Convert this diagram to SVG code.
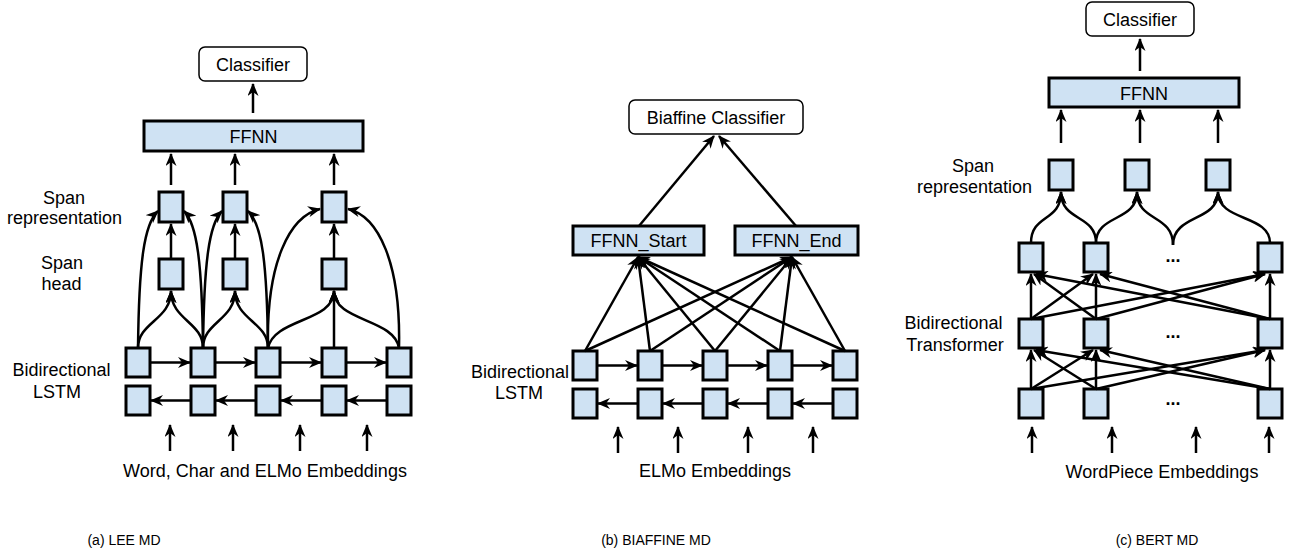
<svg xmlns="http://www.w3.org/2000/svg" width="1291" height="552" viewBox="0 0 1291 552">
<defs>
<marker id="ah" markerUnits="userSpaceOnUse" viewBox="0 0 13 11" markerWidth="13" markerHeight="11" refX="12" refY="5.5" orient="auto">
<path d="M0,0 L13,5.5 L0,11 L4,5.5 z" fill="#000"/>
</marker>
<style>
.box{fill:#cfe2f3;stroke:#000;stroke-width:3}
.cls{fill:#fff;stroke:#000;stroke-width:1.5}
.t{font-family:"Liberation Sans",Arial,sans-serif;font-size:18px;fill:#000;text-anchor:middle}
.cap{font-family:"Liberation Sans",Arial,sans-serif;font-size:14px;fill:#000;text-anchor:middle}
.dots{font-family:"Liberation Sans",Arial,sans-serif;font-size:18px;font-weight:bold;fill:#000;text-anchor:middle}
.c{stroke:#000;stroke-width:2.5;fill:none;marker-end:url(#ah)}
.l{stroke:#000;stroke-width:2.5;fill:none}
</style>
</defs>
<rect width="1291" height="552" fill="#fff"/>

<!-- ===== Panel A ===== -->
<g id="a-classifier"><rect class="cls" x="199" y="47" width="108" height="34" rx="6"/><text class="t" x="253" y="70.5">Classifier</text></g>
<g id="a-ffnn"><rect class="box" x="144" y="121" width="219" height="30"/><text class="t" x="253.5" y="142.5">FFNN</text></g>
<g id="a-rep1"><rect class="box" x="159" y="192" width="24" height="30"/></g>
<g id="a-rep2"><rect class="box" x="223" y="192" width="24" height="30"/></g>
<g id="a-rep3"><rect class="box" x="322" y="192" width="24" height="30"/></g>
<g id="a-head1"><rect class="box" x="159" y="259" width="24" height="30"/></g>
<g id="a-head2"><rect class="box" x="223" y="259" width="24" height="30"/></g>
<g id="a-head3"><rect class="box" x="322" y="259" width="24" height="30"/></g>
<g id="a-f1"><rect class="box" x="126" y="348" width="24" height="29"/></g>
<g id="a-f2"><rect class="box" x="191" y="348" width="24" height="29"/></g>
<g id="a-f3"><rect class="box" x="256" y="348" width="24" height="29"/></g>
<g id="a-f4"><rect class="box" x="322" y="348" width="24" height="29"/></g>
<g id="a-f5"><rect class="box" x="387" y="348" width="24" height="29"/></g>
<g id="a-b1"><rect class="box" x="126" y="386" width="24" height="29"/></g>
<g id="a-b2"><rect class="box" x="191" y="386" width="24" height="29"/></g>
<g id="a-b3"><rect class="box" x="256" y="386" width="24" height="29"/></g>
<g id="a-b4"><rect class="box" x="322" y="386" width="24" height="29"/></g>
<g id="a-b5"><rect class="box" x="387" y="386" width="24" height="29"/></g>
<g id="a-labels">
<text class="t" x="64" y="204">Span</text>
<text class="t" x="64.5" y="224">representation</text>
<text class="t" x="62" y="269">Span</text>
<text class="t" x="61.5" y="290">head</text>
<text class="t" x="61.5" y="376">Bidirectional</text>
<text class="t" x="57" y="398">LSTM</text>
<text class="t" x="265" y="477">Word, Char and ELMo Embeddings</text>
<text class="cap" x="124" y="545">(a) LEE MD</text>
</g>

<!-- ===== Panel B ===== -->
<g id="b-classifier"><rect class="cls" x="629" y="100" width="174" height="34" rx="6"/><text class="t" x="716" y="123.5">Biaffine Classifier</text></g>
<g id="b-start"><rect class="box" x="573" y="226" width="131" height="29"/><text class="t" x="638.5" y="246.5">FFNN_Start</text></g>
<g id="b-end"><rect class="box" x="735" y="226" width="123" height="29"/><text class="t" x="796.5" y="246.5">FFNN_End</text></g>
<g id="b-f1"><rect class="box" x="573" y="351" width="24" height="29"/></g>
<g id="b-f2"><rect class="box" x="638" y="351" width="24" height="29"/></g>
<g id="b-f3"><rect class="box" x="703" y="351" width="24" height="29"/></g>
<g id="b-f4"><rect class="box" x="768" y="351" width="24" height="29"/></g>
<g id="b-f5"><rect class="box" x="833" y="351" width="24" height="29"/></g>
<g id="b-b1"><rect class="box" x="573" y="389" width="24" height="29"/></g>
<g id="b-b2"><rect class="box" x="638" y="389" width="24" height="29"/></g>
<g id="b-b3"><rect class="box" x="703" y="389" width="24" height="29"/></g>
<g id="b-b4"><rect class="box" x="768" y="389" width="24" height="29"/></g>
<g id="b-b5"><rect class="box" x="833" y="389" width="24" height="29"/></g>
<g id="b-labels">
<text class="t" x="520" y="378">Bidirectional</text>
<text class="t" x="519" y="399">LSTM</text>
<text class="t" x="715" y="477">ELMo Embeddings</text>
<text class="cap" x="656" y="545">(b) BIAFFINE MD</text>
</g>

<!-- ===== Panel C ===== -->
<g id="c-classifier"><rect class="cls" x="1086" y="2" width="108" height="34" rx="6"/><text class="t" x="1140" y="25.5">Classifier</text></g>
<g id="c-ffnn"><rect class="box" x="1049" y="78" width="190" height="29"/><text class="t" x="1144" y="99.5">FFNN</text></g>
<g id="c-rep1"><rect class="box" x="1049" y="160" width="24" height="30"/></g>
<g id="c-rep2"><rect class="box" x="1125" y="160" width="24" height="30"/></g>
<g id="c-rep3"><rect class="box" x="1206" y="160" width="24" height="30"/></g>
<g id="c-l2a"><rect class="box" x="1019" y="243" width="24" height="29"/></g>
<g id="c-l2b"><rect class="box" x="1084" y="243" width="24" height="29"/></g>
<g id="c-l2c"><rect class="box" x="1258" y="243" width="24" height="29"/></g>
<g id="c-l1a"><rect class="box" x="1019" y="319" width="24" height="29"/></g>
<g id="c-l1b"><rect class="box" x="1084" y="319" width="24" height="29"/></g>
<g id="c-l1c"><rect class="box" x="1258" y="319" width="24" height="29"/></g>
<g id="c-l0a"><rect class="box" x="1019" y="389" width="24" height="29"/></g>
<g id="c-l0b"><rect class="box" x="1084" y="389" width="24" height="29"/></g>
<g id="c-l0c"><rect class="box" x="1258" y="389" width="24" height="29"/></g>
<g id="c-labels">
<text class="dots" x="1173" y="262">...</text>
<text class="dots" x="1173" y="338">...</text>
<text class="dots" x="1173" y="405">...</text>
<text class="t" x="973" y="172">Span</text>
<text class="t" x="974.5" y="193">representation</text>
<text class="t" x="953.5" y="329">Bidirectional</text>
<text class="t" x="955" y="351">Transformer</text>
<text class="t" x="1162" y="478">WordPiece Embeddings</text>
<text class="cap" x="1157" y="545">(c) BERT MD</text>
</g>

<!-- ===== Connectors ===== -->
<g id="connectors">
<!-- A -->
<path class="c" d="M253,113 L253,84"/>
<path class="c" d="M171,185 L171,154"/>
<path class="c" d="M235,185 L235,154"/>
<path class="c" d="M334,185 L334,154"/>
<path class="c" d="M171,259 L171,224"/>
<path class="c" d="M235,259 L235,224"/>
<path class="c" d="M334,259 L334,224"/>
<path class="c" d="M138,348 C139,262 144,224 158,211"/>
<path class="c" d="M203,348 C202,262 197,224 184,211"/>
<path class="c" d="M203,348 C204,262 209,224 222,211"/>
<path class="c" d="M268,348 C267,262 262,224 248,211"/>
<path class="c" d="M138,348 C138,322 171,320 171,291"/>
<path class="c" d="M203,348 C203,322 171,320 171,291"/>
<path class="c" d="M203,348 C203,322 235,320 235,291"/>
<path class="c" d="M268,348 C268,322 235,320 235,291"/>
<path class="c" d="M268,348 C266,262 290,216 320,209"/>
<path class="c" d="M399,348 C401,262 378,216 348,209"/>
<path class="c" d="M268,348 C274,318 334,322 334,291"/>
<path class="c" d="M334,348 L334,291"/>
<path class="c" d="M399,348 C394,318 334,322 334,291"/>
<path class="c" d="M150,362.5 L190,362.5"/>
<path class="c" d="M215,362.5 L255,362.5"/>
<path class="c" d="M280,362.5 L321,362.5"/>
<path class="c" d="M346,362.5 L386,362.5"/>
<path class="c" d="M191,400.5 L151,400.5"/>
<path class="c" d="M256,400.5 L216,400.5"/>
<path class="c" d="M322,400.5 L281,400.5"/>
<path class="c" d="M387,400.5 L347,400.5"/>
<path class="c" d="M170,451 L170,425"/>
<path class="c" d="M233,451 L233,425"/>
<path class="c" d="M300,451 L300,425"/>
<path class="c" d="M367,451 L367,425"/>
<!-- B -->
<path class="c" d="M639,226 L714,136"/>
<path class="c" d="M796,226 L719,136"/>
<path class="c" d="M585,351 L638,257"/>
<path class="c" d="M650,351 L638,257"/>
<path class="c" d="M715,351 L638,257"/>
<path class="c" d="M780,351 L638,257"/>
<path class="c" d="M845,351 L638,257"/>
<path class="c" d="M585,351 L792,257"/>
<path class="c" d="M650,351 L792,257"/>
<path class="c" d="M715,351 L792,257"/>
<path class="c" d="M780,351 L792,257"/>
<path class="c" d="M845,351 L792,257"/>
<path class="c" d="M597,365.5 L637,365.5"/>
<path class="c" d="M662,365.5 L702,365.5"/>
<path class="c" d="M727,365.5 L767,365.5"/>
<path class="c" d="M792,365.5 L832,365.5"/>
<path class="c" d="M638,403.5 L598,403.5"/>
<path class="c" d="M703,403.5 L663,403.5"/>
<path class="c" d="M768,403.5 L728,403.5"/>
<path class="c" d="M833,403.5 L793,403.5"/>
<path class="c" d="M618,453 L618,427"/>
<path class="c" d="M678,453 L678,427"/>
<path class="c" d="M748,453 L748,427"/>
<path class="c" d="M813,453 L813,427"/>
<!-- C -->
<path class="c" d="M1140,71 L1140,39"/>
<path class="c" d="M1061,143 L1061,110"/>
<path class="c" d="M1140,143 L1140,110"/>
<path class="c" d="M1218,143 L1218,110"/>
<path class="c" d="M1031,243 C1031,214 1061,222 1061,192"/>
<path class="c" d="M1096,243 C1096,214 1061,222 1061,192"/>
<path class="c" d="M1096,243 C1096,214 1137,222 1137,192"/>
<path class="c" d="M1173,245 C1173,214 1137,222 1137,192"/>
<path class="c" d="M1173,245 C1173,214 1218,222 1218,192"/>
<path class="c" d="M1270,243 C1270,214 1218,222 1218,192"/>
<path class="c" d="M1031,319 L1031,274"/>
<path class="c" d="M1031,319 L1093,274"/>
<path class="c" d="M1031,319 L1265,274"/>
<path class="c" d="M1096,319 L1034,274"/>
<path class="c" d="M1096,319 L1096,274"/>
<path class="c" d="M1096,319 L1265,274"/>
<path class="c" d="M1270,319 L1036,274"/>
<path class="c" d="M1270,319 L1100,274"/>
<path class="c" d="M1270,319 L1270,274"/>
<path class="c" d="M1031,389 L1031,350"/>
<path class="c" d="M1031,389 L1093,350"/>
<path class="c" d="M1031,389 L1265,350"/>
<path class="c" d="M1096,389 L1034,350"/>
<path class="c" d="M1096,389 L1096,350"/>
<path class="c" d="M1096,389 L1265,350"/>
<path class="c" d="M1270,389 L1036,350"/>
<path class="c" d="M1270,389 L1100,350"/>
<path class="c" d="M1270,389 L1270,350"/>
<path class="c" d="M1032,453 L1032,427"/>
<path class="c" d="M1112,453 L1112,427"/>
<path class="c" d="M1196,453 L1196,427"/>
<path class="c" d="M1269,453 L1269,427"/>
</g>
</svg>
